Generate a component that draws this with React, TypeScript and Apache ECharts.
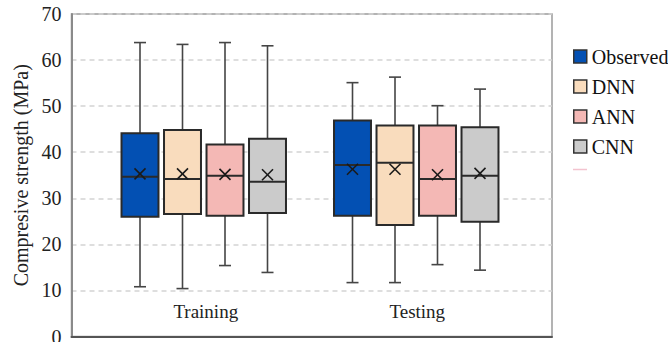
import React, { useEffect, useRef } from "react";
import * as echarts from "echarts";

// ---- data ----
const categories = ["Training", "Testing"];
const models = ["Observed", "DNN", "ANN", "CNN"];
const colors = ["#0350b3", "#f9dcbd", "#f4b8b5", "#cbcbcb"];
const yTicks = [0, 10, 20, 30, 40, 50, 60, 70];

// [min, Q1, median, Q3, max, mean] per category (Training, Testing)
const observedStats = [
  [10.8, 26.0, 34.7, 44.1, 63.8, 35.3],
  [11.7, 26.2, 37.2, 46.9, 55.1, 36.3],
];
const dnnStats = [
  [10.4, 26.6, 34.2, 44.8, 63.4, 35.3],
  [11.7, 24.2, 37.7, 45.8, 56.3, 36.3],
];
const annStats = [
  [15.4, 26.2, 34.9, 41.7, 63.8, 35.2],
  [15.6, 26.2, 34.2, 45.8, 50.1, 35.1],
];
const cnnStats = [
  [13.9, 26.8, 33.6, 42.9, 63.1, 35.1],
  [14.4, 24.9, 34.9, 45.4, 53.7, 35.4],
];
const allStats = [observedStats, dnnStats, annStats, cnnStats];

const FONT = "'Liberation Serif', 'Times New Roman', serif";

export default function App() {
  const ref = useRef<HTMLDivElement>(null);
  useEffect(() => {
    if (!ref.current) return;
    const chart = echarts.init(ref.current, null, { renderer: "svg" });
    const slotsPerGroup = models.length + 1;

    const renderItem = (color: string) => (params: any, api: any) => {
      const x = api.value(0);
      const pMin = api.coord([x, api.value(1)]);
      const pQ1 = api.coord([x, api.value(2)]);
      const pMed = api.coord([x, api.value(3)]);
      const pQ3 = api.coord([x, api.value(4)]);
      const pMax = api.coord([x, api.value(5)]);
      const pMean = api.coord([x, api.value(6)]);
      const bw = api.size([1, 0])[0] * 0.87;
      const cx = pMed[0];
      const half = bw / 2;
      const cap = 6;
      const xs = 5.5;
      const wStyle = { stroke: "#454545", lineWidth: 1.6 };
      const bStyle = { stroke: "#2a2a2a", lineWidth: 2 };
      return {
        type: "group",
        children: [
          { type: "line", shape: { x1: cx, y1: pMax[1], x2: cx, y2: pQ3[1] }, style: wStyle },
          { type: "line", shape: { x1: cx, y1: pQ1[1], x2: cx, y2: pMin[1] }, style: wStyle },
          { type: "line", shape: { x1: cx - cap, y1: pMax[1], x2: cx + cap, y2: pMax[1] }, style: wStyle },
          { type: "line", shape: { x1: cx - cap, y1: pMin[1], x2: cx + cap, y2: pMin[1] }, style: wStyle },
          {
            type: "rect",
            shape: { x: cx - half, y: pQ3[1], width: bw, height: pQ1[1] - pQ3[1] },
            style: { fill: color, ...bStyle },
          },
          { type: "line", shape: { x1: cx - half, y1: pMed[1], x2: cx + half, y2: pMed[1] }, style: bStyle },
          {
            type: "line",
            shape: { x1: cx - xs, y1: pMean[1] - xs, x2: cx + xs, y2: pMean[1] + xs },
            style: { stroke: "#1a1a1a", lineWidth: 1.6 },
          },
          {
            type: "line",
            shape: { x1: cx - xs, y1: pMean[1] + xs, x2: cx + xs, y2: pMean[1] - xs },
            style: { stroke: "#1a1a1a", lineWidth: 1.6 },
          },
        ],
      };
    };

    const series: any[] = models.map((m, i) => ({
      name: m,
      type: "custom",
      xAxisIndex: 1,
      yAxisIndex: 1,
      itemStyle: { color: colors[i] },
      renderItem: renderItem(colors[i]),
      encode: { x: 0, y: [1, 2, 3, 4, 5] },
      data: allStats[i].map((s, g) => [g * slotsPerGroup + i, ...s]),
    }));

    chart.setOption({
      animation: false,
      grid: [
        { left: 71.5, right: 116, top: 14, bottom: 5.5, show: true, borderColor: "#9a9a9a", borderWidth: 1.5, outerBoundsMode: "none" },
        { left: 118.75, right: 166.75, top: 14, bottom: 5.5, outerBoundsMode: "none" },
        { left: 100, right: 145, top: 14, bottom: 48, outerBoundsMode: "none" },
      ],
      xAxis: [
        {
          gridIndex: 0,
          type: "value",
          min: 0,
          max: 1,
          axisLine: { show: true, lineStyle: { color: "#555", width: 2 } },
          axisTick: { show: false },
          axisLabel: { show: false },
          splitLine: { show: false },
        },
        {
          gridIndex: 1,
          type: "value",
          min: -0.5,
          max: slotsPerGroup * categories.length - 1 - 0.5,
          show: false,
        },
        {
          gridIndex: 2,
          type: "category",
          data: categories,
          axisLine: { show: false },
          axisTick: { show: false },
          axisLabel: { fontFamily: FONT, fontSize: 19, color: "#222", margin: 8 },
        },
      ],
      yAxis: [
        {
          gridIndex: 0,
          type: "value",
          min: yTicks[0],
          max: yTicks[yTicks.length - 1],
          interval: 10,
          name: "Compresive strength (MPa)",
          nameLocation: "middle",
          nameGap: 39,
          nameTextStyle: { fontFamily: FONT, fontSize: 20, color: "#222" },
          axisLine: { show: true, lineStyle: { color: "#8a8a8a", width: 2 } },
          axisTick: { show: false },
          axisLabel: { fontFamily: FONT, fontSize: 20, color: "#222", margin: 10 },
          splitLine: { show: true, lineStyle: { color: "#d4d4d4", type: [5, 4], width: 1.5 } },
        },
        { gridIndex: 1, type: "value", min: 0, max: 70, show: false },
        { gridIndex: 2, type: "value", min: 0, max: 1, show: false },
      ],
      legend: {
        orient: "vertical",
        left: 573,
        top: 46.5,
        padding: 0,
        itemWidth: 13,
        itemHeight: 13,
        itemGap: 10,
        icon: "rect",
        textStyle: { fontFamily: FONT, fontSize: 20, lineHeight: 20, color: "#111", padding: [0, 0, 0, 0] },
        data: models.map((m, i) => ({
          name: m,
          itemStyle: { color: colors[i], borderColor: "#333", borderWidth: 1.5 },
        })),
      },
      graphic: [
        {
          type: "line",
          shape: { x1: 573, y1: 169.5, x2: 587, y2: 169.5 },
          style: { stroke: "#f3c3cf", lineWidth: 1.5 },
        },
      ],
      series,
    });
    return () => chart.dispose();
  }, []);
  return (
    <div
      ref={ref}
      style={{ position: "absolute", left: 0, top: 0, width: 668, height: 342, background: "#fff" }}
    />
  );
}
